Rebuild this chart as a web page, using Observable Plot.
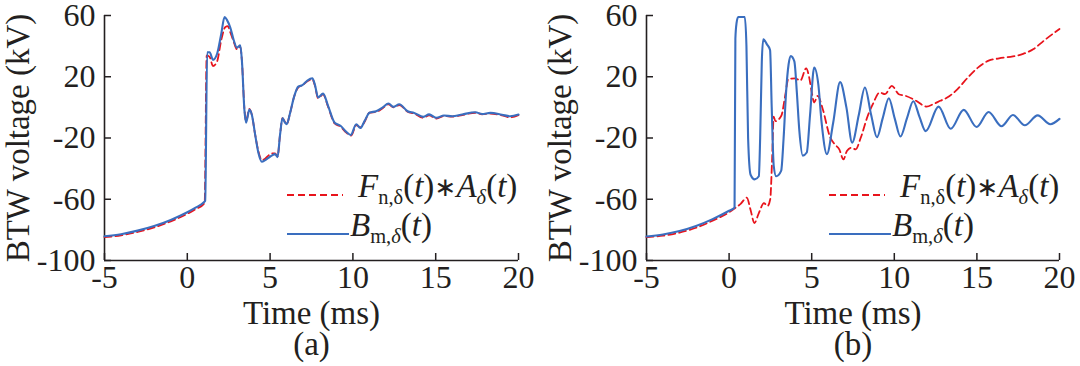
<!DOCTYPE html>
<html>
<head>
<meta charset="utf-8">
<script src="https://cdn.jsdelivr.net/npm/d3@7"></script>
<script src="https://cdn.jsdelivr.net/npm/@observablehq/plot@0.6"></script>
<style>
  html, body { margin: 0; padding: 0; background: #fff; }
  #wrap { position: relative; width: 1080px; height: 366px; display: flex; overflow: hidden; }
  .leg-swatch { position: absolute; }
  .leg-text { position: absolute; font-family: "Liberation Serif", "Times New Roman", serif; font-size: 33px; line-height: 33px; color: #231f20; white-space: nowrap; }
  .sb { font-size: 0.62em; position: relative; top: 0.32em; }
  .ast { font-size: 0.8em; font-family: "DejaVu Sans", sans-serif; position: relative; top: -0.02em; }
</style>
</head>
<body>
<div id="wrap"></div>
<script>
// ---------- data ----------
const ticksX = [-5, 0, 5, 10, 15, 20];
const ticksY = [-100, -60, -20, 20, 60];
const xLabel = "Time (ms)";
const yLabel = "BTW voltage (kV)";
const captions = ["(a)", "(b)"];

// Panel (a): B_m,δ(t)
const tA_B = [-5,-4,-3,-2,-1,0,0.5,1.0,1.08,1.2,1.35,1.55,1.8,2.05,2.25,2.4,2.6,2.8,3.0,3.2,3.3,3.45,3.55,3.75,3.9,4.1,4.3,4.5,4.7,4.9,5.1,5.3,5.45,5.6,5.75,5.9,6.0,6.2,6.45,6.7,6.95,7.25,7.55,7.7,7.9,8.2,8.5,8.9,9.25,9.6,9.87,10.2,10.45,10.7,11.0,11.4,11.8,12.15,12.45,12.8,13.3,13.7,14.25,14.6,15.05,15.5,16.0,16.6,17.4,17.8,18.3,19.0,19.5,20];
const vA_B = [-84.2,-82.8,-80.5,-77.5,-73.5,-68.5,-65.5,-62,-61,36,36,31,35,48,59,57,52,44,39,40.5,30,-2,-10,-1.5,-5,-18,-30,-35.5,-34.5,-33,-31.5,-30.5,-32.5,-18,-7,-10,-11,-4,7,13.5,14.5,17.5,19,15,6.5,9,1,-10,-12,-16,-18,-11,-13.5,-9,-3.5,-2.5,0,2.5,0.3,2,-2.5,-3.6,-6.2,-4.6,-6.8,-5.3,-5.8,-4.6,-3.2,-4.3,-3.6,-4.8,-5.8,-4.7];
// Panel (a): F_n,δ(t)*A_δ(t)
const tA_F = [-5,-4,-3,-2,-1,0,0.5,1.0,1.05,1.17,1.35,1.55,1.8,2.05,2.3,2.45,2.6,2.8,3.0,3.2,3.3,3.45,3.55,3.75,3.9,4.1,4.3,4.5,4.7,4.9,5.1,5.3,5.45,5.6,5.75,5.9,6.0,6.2,6.45,6.7,6.95,7.25,7.55,7.7,7.9,8.2,8.5,8.9,9.25,9.6,9.9,10.2,10.45,10.7,11.0,11.4,11.8,12.15,12.45,12.8,13.3,13.7,14.25,14.6,15.05,15.5,16.0,16.6,17.4,17.8,18.3,19.0,19.5,20];
const vA_F = [-84.8,-83.6,-81.3,-78.4,-74.4,-69.5,-66.5,-63,-62,34,33,27,30,44,52.5,53,49,43,38,39.5,30,-1,-9,-1,-5,-18,-29,-34.5,-33.5,-31.5,-30,-30,-32,-18,-7,-9.5,-11,-4,7,13,14.5,17,18.5,14.5,6,8.5,0.5,-10.5,-12.5,-16.5,-18.5,-11.5,-13,-9.5,-3.5,-3,-0.5,2,0,1.5,-2.8,-4,-6.8,-5.2,-7.4,-5.6,-6,-5,-3.5,-4.5,-4,-5.2,-6.5,-5];

// Panel (b): B_m,δ(t)
const tB_B = [-5,-4,-3,-2,-1,0,0.33,0.38,0.45,0.55,0.95,1.05,1.15,1.3,1.55,1.8,1.88,1.98,2.07,2.3,2.48,2.58,2.7,2.85,3.15,3.3,3.45,3.6,3.74,3.95,4.1,4.25,4.46,4.7,4.9,5.15,5.4,5.6,5.92,6.3,6.72,7.1,7.45,7.85,8.22,8.6,8.95,9.3,9.67,10.02,10.37,10.77,11.15,11.52,11.9,12.68,13.41,14.2,14.98,15.71,16.49,17.18,17.9,18.68,19.44,20];
const vB_B = [-84.3,-83,-80.8,-77.5,-73,-67.5,-65.5,45,55,59,59,40,-20,-44,-47,-45,-20,30,44.5,41,37.5,0,-38,-45,-41.5,-20,10,28,33.5,30,10,-15,-31.5,-29.5,-5,26,15,-10,-30.5,-10,16.5,0,-23,-5,13,-5,-19.5,-7,6,-7,-19,-7,4,-6,-15.5,0.5,-14,-1.6,-12.8,-3,-12.3,-5,-11.7,-5.2,-11,-7.5];
// Panel (b): F_n,δ(t)*A_δ(t)
const tB_F = [-5,-4,-3,-2,-1,0,0.33,0.7,1.07,1.3,1.53,1.8,2.11,2.32,2.49,2.6,2.7,2.8,3.16,3.4,3.58,4.0,4.31,4.67,4.83,5.0,5.15,5.36,5.67,6.09,6.4,6.67,6.92,7.13,7.41,7.66,7.97,8.39,8.7,9.12,9.44,9.85,10.27,10.69,11.32,11.95,12.36,12.78,13.2,13.83,14.46,15.08,15.71,16.34,17.18,17.8,18.43,19.06,20];
const vB_F = [-84.8,-83.8,-81.8,-78.6,-74,-68.5,-66,-63,-59,-67,-75.5,-69,-62.5,-64.5,-60,-35,-6,-9,-5.5,8,18.5,19,17.5,25.5,20.5,10,3.2,7.5,-1.2,-18.7,-24.2,-27.4,-34,-28.5,-26.3,-27.4,-19.8,-5.6,2.1,9.7,8.6,14.1,8.6,7.5,4.3,0.5,2.1,4.3,6.4,11.9,19.6,26.1,30.5,32,33.3,34.9,38.1,43.6,51.2];

// ---------- styles ----------
const RED = "#e8141c";
const BLUE = "#3a6ebf";
const INK = "#231f20";
const FONT = "'Liberation Serif', 'Times New Roman', serif";

const pts = (ts, vs) => ts.map((t, i) => ({t, v: vs[i]}));

function panel(F, B, marginLeft, marginRight, caption) {
  return Plot.plot({
    width: 540,
    height: 366,
    marginLeft,
    marginRight,
    marginTop: 15,
    marginBottom: 106,
    x: {domain: [-5, 20]},
    y: {domain: [-100, 60]},
    style: {fontFamily: FONT, fontSize: "32px", color: INK, background: "white", overflow: "visible"},
    marks: [
      Plot.ruleX([-5], {stroke: INK, strokeWidth: 1.6}),
      Plot.ruleY([-100], {stroke: INK, strokeWidth: 1.6}),
      Plot.axisX(ticksX, {tickSize: -7, tickPadding: 12, strokeWidth: 1.5, tickFormat: d => String(d), label: null, fontSize: 32}),
      Plot.axisY(ticksY, {tickSize: -7, tickPadding: 16, strokeWidth: 1.5, tickFormat: d => String(d), label: null, fontSize: 32}),
      Plot.text([xLabel], {frameAnchor: "bottom", lineAnchor: "top", dy: 40, fontSize: 33, fill: INK}),
      Plot.text([yLabel], {frameAnchor: "left", textAnchor: "middle", rotate: -90, lineAnchor: "top", dx: -99, fontSize: 33, fill: INK}),
      Plot.text([caption], {frameAnchor: "bottom", dy: 94, fontSize: 33, fill: INK}),
      Plot.line(F, {x: "t", y: "v", stroke: RED, strokeWidth: 1.8, strokeDasharray: "7,4", curve: "monotone-x"}),
      Plot.line(B, {x: "t", y: "v", stroke: BLUE, strokeWidth: 2.1, curve: "monotone-x"})
    ]
  });
}

const wrap = document.getElementById("wrap");
wrap.append(panel(pts(tA_F, vA_F), pts(tA_B, vA_B), 104, 22, captions[0]));
wrap.append(panel(pts(tB_F, vB_F), pts(tB_B, vB_B), 106, 21, captions[1]));

// ---------- legends ----------
const legF = '<i>F</i><span class="sb">n,δ</span>(<i>t</i>)<span class="ast">∗</span><i>A</i><span class="sb"><i>δ</i></span>(<i>t</i>)';
const legB = '<i>B</i><span class="sb">m,<i>δ</i></span>(<i>t</i>)';
function addLegend(x0) {
  const s1 = document.createElement("div");
  s1.className = "leg-swatch";
  s1.style.left = x0 + "px"; s1.style.top = "183px";
  s1.innerHTML = `<svg width="56" height="4"><line x1="0" x2="56" y1="2" y2="2" stroke="${RED}" stroke-width="1.8" stroke-dasharray="7,4"/></svg>`;
  const s2 = document.createElement("div");
  s2.className = "leg-swatch";
  s2.style.left = x0 + "px"; s2.style.top = "222px";
  s2.innerHTML = `<svg width="62" height="4"><line x1="0" x2="62" y1="2" y2="2" stroke="${BLUE}" stroke-width="2.1"/></svg>`;
  const t1 = document.createElement("div");
  t1.className = "leg-text";
  t1.style.left = (x0 + 71) + "px"; t1.style.top = "170px";
  t1.innerHTML = legF;
  const t2 = document.createElement("div");
  t2.className = "leg-text";
  t2.style.left = (x0 + 63) + "px"; t2.style.top = "209px";
  t2.innerHTML = legB;
  wrap.append(s1, s2, t1, t2);
}
addLegend(287);
addLegend(829);
</script>
</body>
</html>
